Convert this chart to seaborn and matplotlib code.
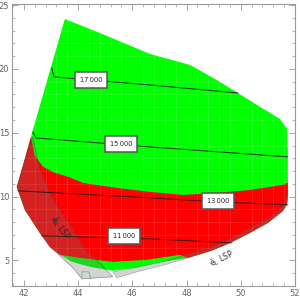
import numpy as np
import pandas as pd
import matplotlib
matplotlib.use("Agg")
import matplotlib.pyplot as plt
from matplotlib.ticker import MultipleLocator
import seaborn as sns

# ---- data ----
feas_x = [43.51, 44.80, 46.65, 48.13, 49.05, 49.90, 50.78, 51.45, 51.71, 51.74, 51.74,
          51.71, 51.56, 51.00, 50.27, 49.53, 48.90, 48.05,
          47.13, 46.10, 45.28, 44.44, 43.77, 43.33, 42.96, 42.59, 42.04, 41.74, 42.26, 42.33]
feas_y = [23.90, 22.81, 21.17, 20.31, 19.21, 18.11, 16.94, 16.08, 15.30, 13.65, 10.06,
          9.43, 8.88, 7.94, 7.08, 6.30, 5.75, 5.20,
          4.89, 4.42, 4.19, 4.50, 4.89, 5.44, 6.06, 7.16, 8.96, 10.76, 14.67, 15.22]

red_x = [42.26, 42.40, 42.70, 43.10, 43.70, 44.18, 45.43, 46.65, 47.87, 49.12, 50.34, 51.56, 51.74,
         51.74, 51.71, 51.56, 51.00, 50.27, 49.53, 48.90, 48.05,
         47.76, 46.54, 45.28, 44.07, 43.33, 42.96, 42.59, 42.04, 41.74]
red_y = [14.67, 13.20, 12.35, 11.90, 11.50, 11.07, 10.68, 10.37, 10.13, 10.29, 10.52, 10.92, 11.07,
         10.06, 9.43, 8.88, 7.94, 7.08, 6.30, 5.75, 5.20,
         5.44, 5.05, 4.89, 5.20, 5.44, 6.06, 7.16, 8.96, 10.76]

eR_x = [42.33, 41.74, 42.04, 42.59, 42.96, 43.33, 43.81, 44.14, 45.28, 44.80, 44.32, 43.70, 43.03, 42.59]
eR_y = [14.67, 10.76, 8.96, 7.16, 6.06, 5.36, 4.42, 3.56, 3.72, 4.81, 5.67, 7.79, 9.90, 12.09]

eL_x = [51.74, 51.63, 51.45, 50.89, 50.15, 49.42, 48.79, 47.94, 47.13, 46.10, 45.28,
        45.43, 46.17, 47.20, 48.05, 48.90, 49.53, 50.27, 51.00, 51.56, 51.71, 51.74]
eL_y = [10.52, 9.59, 9.04, 8.18, 7.32, 6.53, 5.99, 5.44, 4.89, 4.42, 4.11,
        3.64, 4.11, 4.66, 5.20, 5.75, 6.30, 7.08, 7.94, 8.88, 9.43, 10.06]

mark_x = [44.14, 44.14, 44.40, 44.47]
mark_y = [3.56, 4.11, 4.11, 3.56]

c17_x = [43.03, 43.11, 46.65, 49.90]
c17_y = [20.07, 19.37, 18.74, 18.11]
c15_x = [42.33, 42.44, 46.65, 51.74]
c15_y = [15.06, 14.59, 13.89, 13.11]
c13_x = [41.78, 46.65, 49.16, 51.74]
c13_y = [10.45, 9.90, 9.59, 9.35]
c11_x = [42.66, 46.65, 49.68]
c11_y = [6.93, 6.69, 6.38]

levels = ["17\u2009000", "15\u2009000", "13\u2009000", "11\u2009000"]
label_x = [44.47, 45.58, 49.16, 45.69]
label_y = [19.13, 14.12, 9.66, 6.93]

# ---- plot ----
sns.set_style("ticks")
plt.rcParams["font.family"] = ["DejaVu Sans"]

fig = plt.figure(figsize=(3, 3), dpi=100)
ax = fig.add_axes([0.04, 0.0467, 0.943, 0.94])

ax.fill(feas_x, feas_y, color="#00FF00", lw=0, zorder=1)
ax.fill(red_x, red_y, color="#FF0000", lw=0, zorder=2)
ax.fill(eR_x, eR_y, facecolor=(0.45, 0.45, 0.45, 0.3), edgecolor=(0.3, 0.3, 0.3, 0.5), lw=0.6, zorder=3)
ax.fill(eL_x, eL_y, facecolor=(0.45, 0.45, 0.45, 0.3), edgecolor=(0.3, 0.3, 0.3, 0.4), lw=0.5, zorder=3)
ax.plot(mark_x, mark_y, color="#77BB55", lw=0.6, zorder=3)

frames = []
for name, xs, ys in [("17", c17_x, c17_y), ("15", c15_x, c15_y), ("13", c13_x, c13_y), ("11", c11_x, c11_y)]:
    frames.append(pd.DataFrame({"x": xs, "y": ys, "level": name}))
df = pd.concat(frames, ignore_index=True)
sns.lineplot(data=df, x="x", y="y", units="level", estimator=None, sort=False,
             color="#1a1a1a", lw=0.75, alpha=0.85, ax=ax, zorder=4, legend=False)

for t, x, y in zip(levels, label_x, label_y):
    ax.text(x, y, t, ha="center", va="center", fontsize=4.8, color="#222", zorder=6,
            bbox=dict(boxstyle="square,pad=0.75", fc="white", ec="#555", lw=1.1))

ax.text(43.33, 7.55, "\u1ebd$_{\\mathrm{R}}$ LSP", rotation=-54, ha="center", va="center",
        fontsize=5.5, color="#222", zorder=6)
ax.text(49.31, 5.12, "\u1ebd$_{\\mathrm{L}}$ LSP", rotation=25, ha="center", va="center",
        fontsize=5.5, color="#333", zorder=6)

ax.set_xlim(41.56, 52.0)
ax.set_ylim(3.0, 25.08)
ax.xaxis.set_major_locator(MultipleLocator(2))
ax.xaxis.set_minor_locator(MultipleLocator(0.4))
ax.yaxis.set_major_locator(MultipleLocator(5))
ax.yaxis.set_minor_locator(MultipleLocator(1))
ax.set_axisbelow(False)
ax.grid(which="minor", color="white", alpha=0.15, lw=0.5, zorder=5)
ax.tick_params(which="both", direction="in", top=True, right=True, color="#999999",
               labelsize=6, labelcolor="#666666", pad=2)
ax.tick_params(which="major", length=4, width=0.6)
ax.tick_params(which="minor", length=2, width=0.5)
for s in ax.spines.values():
    s.set_color("#999999")
    s.set_linewidth(0.8)
ax.set_xlabel("")
ax.set_ylabel("")

fig.savefig("out.png", dpi=100)
